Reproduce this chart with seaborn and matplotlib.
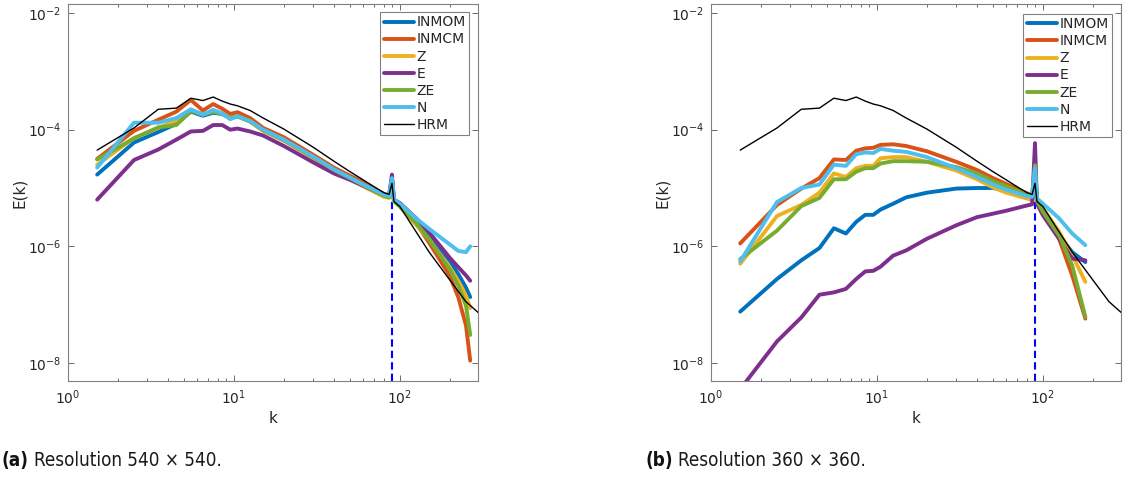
import numpy as np
import matplotlib
matplotlib.use("Agg")
import matplotlib.pyplot as plt
import seaborn as sns
from matplotlib.ticker import LogLocator, NullLocator, FixedLocator

# ---------------- data (log10 of E(k)) ----------------
K_L = [1.5, 2.5, 3.5, 4.5, 5.5, 6.5, 7.5, 8.5, 9.5, 10.5, 12.5, 15, 20, 30, 40, 50, 60, 80,
       86, 89.5, 92, 100, 125, 150, 200, 225, 250, 265]
INMOM_L = [-4.77, -4.22, -4.04, -3.90, -3.69, -3.76, -3.71, -3.73, -3.80, -3.77, -3.85, -4.01, -4.18, -4.47,
           -4.69, -4.83, -4.94, -5.11, -5.14, -4.85, -5.21, -5.27, -5.52, -5.81, -6.25, -6.48, -6.71, -6.87]
INMCM_L = [-4.50, -4.02, -3.83, -3.69, -3.49, -3.67, -3.56, -3.64, -3.73, -3.70, -3.80, -3.97, -4.13, -4.43,
           -4.65, -4.79, -4.90, -5.10, -5.13, -4.86, -5.22, -5.31, -5.60, -5.94, -6.51, -6.88, -7.36, -7.96]
Z_L = [-4.60, -4.14, -3.97, -3.84, -3.66, -3.74, -3.69, -3.72, -3.80, -3.77, -3.86, -4.02, -4.19, -4.49,
       -4.71, -4.85, -4.97, -5.15, -5.17, -4.87, -5.23, -5.32, -5.63, -5.88, -6.37, -6.60, -6.85, -7.06]
E_L = [-5.20, -4.52, -4.34, -4.17, -4.03, -4.02, -3.92, -3.92, -4.00, -3.98, -4.03, -4.10, -4.28, -4.56,
       -4.75, -4.86, -4.96, -5.12, -5.13, -4.77, -5.20, -5.26, -5.52, -5.76, -6.20, -6.36, -6.50, -6.59]
ZE_L = [-4.51, -4.15, -3.96, -3.92, -3.68, -3.74, -3.69, -3.73, -3.80, -3.77, -3.86, -4.01, -4.18, -4.47,
        -4.69, -4.83, -4.95, -5.13, -5.16, -4.86, -5.22, -5.32, -5.60, -5.88, -6.40, -6.68, -7.02, -7.52]
N_L = [-4.65, -3.88, -3.88, -3.80, -3.65, -3.74, -3.66, -3.72, -3.82, -3.77, -3.85, -4.00, -4.17, -4.46,
       -4.68, -4.82, -4.94, -5.11, -5.14, -4.83, -5.20, -5.27, -5.52, -5.70, -5.97, -6.08, -6.10, -6.00]

K_H = [1.5, 2.5, 3.5, 4.5, 5.5, 6.5, 7.5, 8.5, 9.5, 10.5, 12.5, 15, 20, 30, 40, 50, 60, 70, 80,
       86, 89.5, 92, 100, 125, 150, 200, 250, 300]
HRM = [-4.35, -3.97, -3.65, -3.63, -3.46, -3.50, -3.44, -3.51, -3.56, -3.59, -3.67, -3.80, -3.99, -4.30,
       -4.54, -4.72, -4.86, -4.98, -5.08, -5.11, -4.92, -5.23, -5.32, -5.75, -6.10, -6.58, -6.95, -7.15]

K_R = [1.5, 2.5, 3.5, 4.5, 5.5, 6.5, 7.5, 8.5, 9.5, 10.5, 12.5, 15, 20, 30, 40, 50, 60, 80,
       86, 89.5, 92, 100, 125, 150, 180]
INMOM_R = [-7.12, -6.56, -6.24, -6.03, -5.69, -5.78, -5.58, -5.46, -5.46, -5.37, -5.27, -5.16, -5.08,
           -5.01, -5.00, -5.00, -5.04, -5.12, -5.15, -4.95, -5.22, -5.41, -5.81, -6.10, -6.27]
INMCM_R = [-5.95, -5.29, -5.01, -4.83, -4.51, -4.52, -4.36, -4.32, -4.31, -4.26, -4.25, -4.28, -4.37,
           -4.55, -4.69, -4.83, -4.93, -5.09, -5.13, -4.85, -5.20, -5.41, -5.87, -6.50, -7.24]
Z_R = [-6.30, -5.48, -5.29, -5.08, -4.75, -4.81, -4.66, -4.62, -4.62, -4.49, -4.47, -4.47, -4.55,
       -4.70, -4.85, -4.99, -5.08, -5.18, -5.21, -4.90, -5.24, -5.35, -5.75, -6.15, -6.61]
E_R = [-8.45, -7.63, -7.22, -6.83, -6.79, -6.73, -6.56, -6.43, -6.42, -6.35, -6.16, -6.07, -5.87,
       -5.64, -5.50, -5.44, -5.39, -5.30, -5.28, -4.23, -5.27, -5.47, -5.87, -6.21, -6.24]
ZE_R = [-6.22, -5.73, -5.31, -5.17, -4.85, -4.85, -4.72, -4.66, -4.66, -4.58, -4.54, -4.54, -4.55,
        -4.64, -4.75, -4.88, -4.97, -5.11, -5.13, -4.61, -5.22, -5.41, -5.81, -6.33, -7.21]
N_R = [-6.26, -5.24, -5.00, -4.94, -4.60, -4.62, -4.42, -4.39, -4.40, -4.33, -4.36, -4.38, -4.47,
       -4.66, -4.81, -4.94, -5.03, -5.14, -5.15, -4.66, -5.18, -5.27, -5.52, -5.78, -5.98]

NAMES = ["INMOM", "INMCM", "Z", "E", "ZE", "N"]
COLORS = ["#0072BD", "#D95319", "#EDB120", "#7E2F8E", "#77AC30", "#4DBEEE"]
K_CUT = 89.5
E_CUT_LOG = -5.2
CAPTIONS = [("(a)", "Resolution 540 \u00d7 540."), ("(b)", "Resolution 360 \u00d7 360.")]

# ---------------- style ----------------
sns.set_style("ticks")
plt.rcParams["font.family"] = ["DejaVu Sans"]
plt.rcParams["mathtext.fontset"] = "dejavusans"
TXT = "#262626"

fig = plt.figure(figsize=(11.23, 4.78), dpi=100)
ax1 = fig.add_axes([0.0605, 0.2029, 0.3651, 0.7887])
ax2 = fig.add_axes([0.6331, 0.2029, 0.3651, 0.7887])

panels = [
    (ax1, K_L, [INMOM_L, INMCM_L, Z_L, E_L, ZE_L, N_L], (0.978, 0.979)),
    (ax2, K_R, [INMOM_R, INMCM_R, Z_R, E_R, ZE_R, N_R], (0.978, 0.974)),
]

for ax, K, series, lpos in panels:
    ax.set_xscale("log")
    ax.set_yscale("log")
    for name, col, vals in zip(NAMES, COLORS, series):
        sns.lineplot(x=np.array(K), y=10.0 ** np.array(vals), ax=ax, color=col,
                     linewidth=2.8, label=name, sort=False, estimator=None)
    sns.lineplot(x=np.array(K_H), y=10.0 ** np.array(HRM), ax=ax, color="black",
                 linewidth=1.0, label="HRM", sort=False, estimator=None)
    ax.set_xlim(1, 295)
    ax.set_ylim(4.9e-9, 1.43e-2)
    ax.vlines(K_CUT, 4.9e-9, 10 ** E_CUT_LOG, colors="#0000ff",
              linestyles=(0, (3.5, 2.0)), linewidth=1.5, zorder=1)
    ax.yaxis.set_major_locator(FixedLocator([1e-8, 1e-6, 1e-4, 1e-2]))
    ax.yaxis.set_minor_locator(NullLocator())
    ax.xaxis.set_major_locator(LogLocator(base=10))
    ax.xaxis.set_minor_locator(LogLocator(base=10, subs=np.arange(2, 10)))
    ax.tick_params(which="both", direction="in", top=True, right=True,
                   colors="#555555", labelcolor=TXT, labelsize=10, width=0.6)
    ax.tick_params(which="major", length=4.5, pad=5)
    ax.tick_params(which="minor", length=2.5)
    for s in ax.spines.values():
        s.set_color("#808080")
        s.set_linewidth(0.8)
    ax.set_xlabel("k", fontsize=11, color=TXT, labelpad=3)
    ax.set_ylabel("E(k)", fontsize=11, color=TXT, labelpad=0.5)
    leg = ax.legend(loc="upper right", bbox_to_anchor=lpos, frameon=True, fancybox=False,
                    framealpha=1, edgecolor="#808080", fontsize=10, handlelength=2.2,
                    handletextpad=0.15, labelspacing=0.22, borderpad=0.25,
                    borderaxespad=0.0)
    leg.get_frame().set_linewidth(0.8)
    for t in leg.get_texts():
        t.set_color(TXT)

renderer = fig.canvas.get_renderer()
W = fig.get_figwidth() * fig.dpi
for (tag, rest), x0 in zip(CAPTIONS, [0.0015, 0.5745]):
    t = fig.text(x0, 0.036, tag, fontsize=13.5, fontweight="bold", family=["DejaVu Sans"],
                 fontstretch="condensed", va="center", ha="left", color="#111111")
    bb = t.get_window_extent(renderer=renderer)
    fig.text(bb.x1 / W + 5 / W, 0.036, rest, fontsize=13.5, family=["DejaVu Sans"],
             fontstretch="condensed", va="center", ha="left", color="#1a1a1a")

fig.savefig("out.png", dpi=100)
